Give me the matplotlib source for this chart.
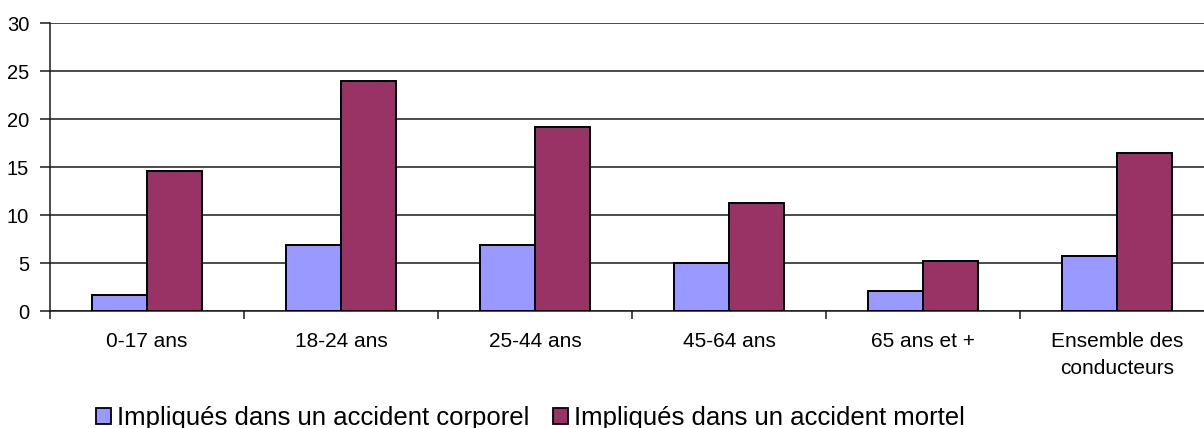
import matplotlib.pyplot as plt
import numpy as np
from matplotlib.patches import Patch

plt.rcParams['font.family'] = ['Liberation Sans', 'DejaVu Sans']

categories = ['0-17 ans', '18-24 ans', '25-44 ans', '45-64 ans', '65 ans et +',
              'Ensemble des\nconducteurs']
corporel = [1.7, 6.9, 6.9, 5.0, 2.1, 5.8]
mortel = [14.6, 24.0, 19.2, 11.3, 5.2, 16.5]
series_names = ['Impliqués dans un accident corporel', 'Impliqués dans un accident mortel']
colors = ['#9999FF', '#993366']

W, H = 1204, 428
fig = plt.figure(figsize=(W / 100, H / 100), dpi=100)
# plot area runs a bit past the right edge, like the original
ax = fig.add_axes([50 / W, (H - 311.3) / H, 1164 / W, 288 / H])

x = np.arange(len(categories))
bw = 0.284
ax.bar(x - bw / 2, corporel, bw, color=colors[0], edgecolor='black', linewidth=1.4, zorder=3)
ax.bar(x + bw / 2, mortel, bw, color=colors[1], edgecolor='black', linewidth=1.4, zorder=3)

ax.set_xlim(-0.5, len(categories) - 0.5)
ax.set_ylim(0, 30)
ax.set_yticks(np.arange(0, 31, 5))
ax.yaxis.grid(True, color='#1a1a1a', linewidth=1.1, zorder=0)
ax.set_axisbelow(True)

# boundary ticks (major) and centred labels (minor)
ax.set_xticks(np.arange(-0.5, len(categories), 1.0))
ax.set_xticklabels([])
ax.set_xticks(x, minor=True)
ax.set_xticklabels(categories, minor=True, fontsize=15, linespacing=1.55)
ax.tick_params(axis='x', which='major', direction='out', length=6, width=1.1, color='#1a1a1a')
ax.tick_params(axis='x', which='minor', length=0, pad=15)
ax.tick_params(axis='y', direction='out', length=7, width=1.1, color='#1a1a1a',
               labelsize=14.5, pad=8)

for s in ['top', 'right']:
    ax.spines[s].set_visible(False)
for s in ['left', 'bottom']:
    ax.spines[s].set_color('#1a1a1a')
    ax.spines[s].set_linewidth(1.1)

handles = [Patch(facecolor=c, edgecolor='black', linewidth=1.3) for c in colors]
fig.legend(handles, series_names, loc='center left', bbox_to_anchor=(96 / W, (H - 418) / H),
           ncol=2, frameon=False, fontsize=18.5, handlelength=0.58, handleheight=0.58,
           handletextpad=0.25, columnspacing=0.9, borderaxespad=0, borderpad=0)

fig.savefig('out.png', dpi=100)
